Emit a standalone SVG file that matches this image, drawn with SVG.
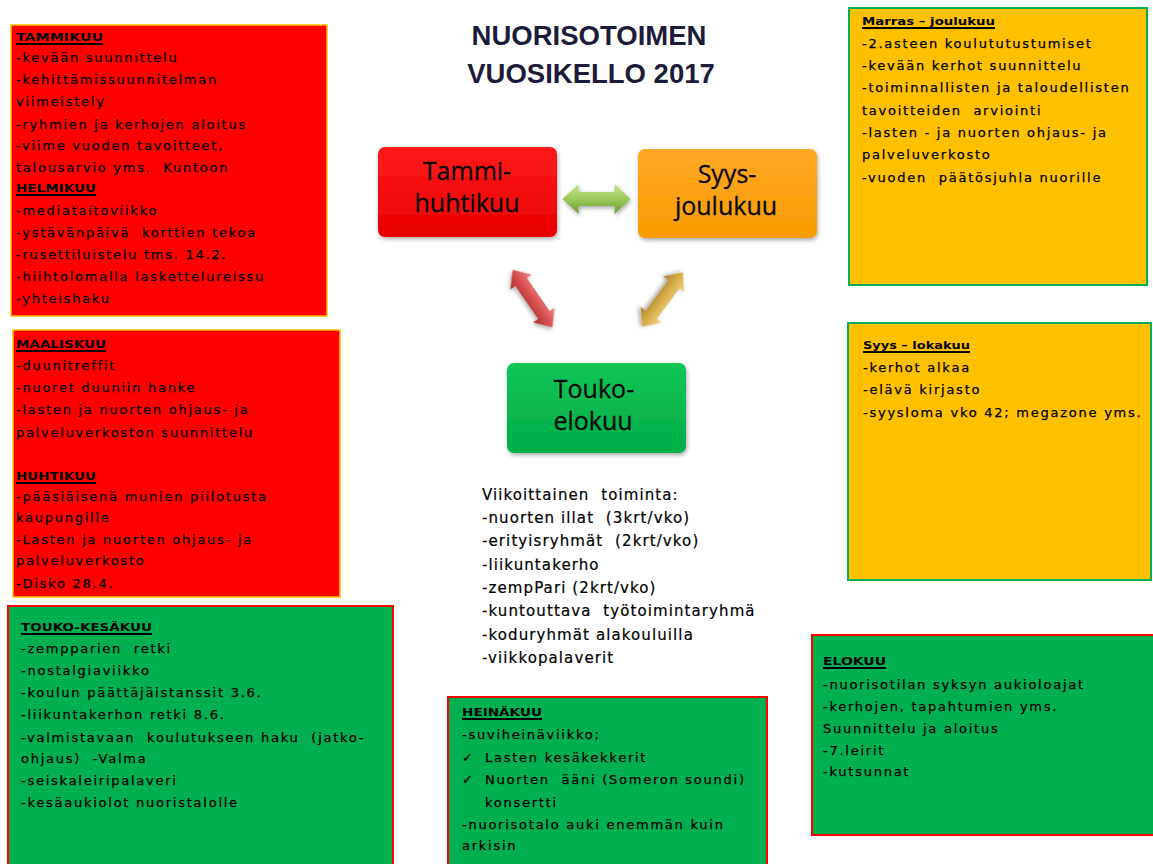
<svg xmlns="http://www.w3.org/2000/svg" width="1153" height="864" viewBox="0 0 1153 864" xml:space="preserve">
<defs>
<style>
text{white-space:pre}
.t{font-family:"DejaVu Sans","Liberation Sans",sans-serif;font-size:13px;letter-spacing:1.75px;fill:#000;stroke:#000;stroke-width:0.25}
.h{font-family:"DejaVu Sans","Liberation Sans",sans-serif;font-size:11px;font-weight:bold;fill:#000}
.u{stroke:#000;stroke-width:2}
.c{font-family:"DejaVu Sans","Liberation Sans",sans-serif;font-size:15px;letter-spacing:1.1px;fill:#000;stroke:#000;stroke-width:0.2}
.n{font-family:"Open Sans","DejaVu Sans",sans-serif;font-size:25px;fill:#0a0a0a;text-anchor:middle;stroke:#0a0a0a;stroke-width:0.3}
.ti{font-family:"Liberation Sans",Arial,sans-serif;font-size:27.5px;font-weight:bold;fill:#1c1c3a;text-anchor:middle}
.red{fill:#FF0000;stroke:#FFC000;stroke-width:1.5}
.org{fill:#FFC000;stroke:#00B050;stroke-width:2}
.grn{fill:#00B050;stroke:#FF0000;stroke-width:2}
</style>
<linearGradient id="gR" x1="0" y1="0" x2="0" y2="1"><stop offset="0" stop-color="#FF1A1A"/><stop offset="1" stop-color="#E80000"/></linearGradient>
<linearGradient id="gO" x1="0" y1="0" x2="0" y2="1"><stop offset="0" stop-color="#FFA826"/><stop offset="1" stop-color="#F89C00"/></linearGradient>
<linearGradient id="gG" x1="0" y1="0" x2="0" y2="1"><stop offset="0" stop-color="#12C457"/><stop offset="1" stop-color="#00AE48"/></linearGradient>
<linearGradient id="aG" x1="0" y1="0" x2="0" y2="1"><stop offset="0" stop-color="#C6E38A"/><stop offset="0.5" stop-color="#9CC95A"/><stop offset="1" stop-color="#6E9A34"/></linearGradient>
<linearGradient id="aR" x1="0" y1="0" x2="0" y2="1"><stop offset="0" stop-color="#F08A8A"/><stop offset="0.5" stop-color="#D85050"/><stop offset="1" stop-color="#A83030"/></linearGradient>
<linearGradient id="aY" x1="0" y1="0" x2="0" y2="1"><stop offset="0" stop-color="#F2D58A"/><stop offset="0.5" stop-color="#D9AE4A"/><stop offset="1" stop-color="#A8802A"/></linearGradient>
<filter id="sh" x="-10%" y="-10%" width="125%" height="130%"><feDropShadow dx="1" dy="2" stdDeviation="2" flood-color="#000" flood-opacity="0.35"/></filter>
</defs>
<rect width="1153" height="864" fill="#fff"/>

<g id="title">
<text class="ti" x="589" y="45">NUORISOTOIMEN</text>
<text class="ti" x="591" y="83">VUOSIKELLO 2017</text>
</g>

<g id="box-tammi-huhti-1">
<rect class="red" x="11" y="25" width="316" height="291"/>
<text class="h" x="16" y="41" textLength="87" lengthAdjust="spacingAndGlyphs">TAMMIKUU</text>
<line class="u" x1="16" y1="44" x2="103" y2="44"/>
<text class="t" x="16" y="62">-kevään suunnittelu</text>
<text class="t" x="16" y="84">-kehittämissuunnitelman</text>
<text class="t" x="16" y="106">viimeistely</text>
<text class="t" x="16" y="129">-ryhmien ja kerhojen aloitus</text>
<text class="t" x="16" y="150">-viime vuoden tavoitteet,</text>
<text class="t" x="16" y="172">talousarvio yms.  Kuntoon</text>
<text class="h" x="16" y="192" textLength="80" lengthAdjust="spacingAndGlyphs">HELMIKUU</text>
<line class="u" x1="16" y1="195" x2="96" y2="195"/>
<text class="t" x="16" y="215">-mediataitoviikko</text>
<text class="t" x="16" y="237">-ystävänpäivä  korttien tekoa</text>
<text class="t" x="16" y="259">-rusettiluistelu tms. 14.2.</text>
<text class="t" x="16" y="281">-hiihtolomalla laskettelureissu</text>
<text class="t" x="16" y="303">-yhteishaku</text>
</g>

<g id="box-maalis-huhti">
<rect class="red" x="13" y="330" width="327" height="267"/>
<text class="h" x="16" y="348" textLength="90" lengthAdjust="spacingAndGlyphs">MAALISKUU</text>
<line class="u" x1="16" y1="351" x2="106" y2="351"/>
<text class="t" x="16" y="370">-duunitreffit</text>
<text class="t" x="16" y="392">-nuoret duuniin hanke</text>
<text class="t" x="16" y="414">-lasten ja nuorten ohjaus- ja</text>
<text class="t" x="16" y="437">palveluverkoston suunnittelu</text>
<text class="h" x="16" y="480" textLength="80" lengthAdjust="spacingAndGlyphs">HUHTIKUU</text>
<line class="u" x1="16" y1="483" x2="96" y2="483"/>
<text class="t" x="16" y="501">-pääsiäisenä munien piilotusta</text>
<text class="t" x="16" y="522">kaupungille</text>
<text class="t" x="16" y="544">-Lasten ja nuorten ohjaus- ja</text>
<text class="t" x="16" y="565">palveluverkosto</text>
<text class="t" x="16" y="588">-Disko 28.4.</text>
</g>

<g id="box-touko-kesa">
<rect class="grn" x="8" y="606" width="385" height="270"/>
<text class="h" x="21" y="631" textLength="131" lengthAdjust="spacingAndGlyphs">TOUKO-KESÄKUU</text>
<line class="u" x1="21" y1="634" x2="152" y2="634"/>
<text class="t" x="21" y="653">-zempparien  retki</text>
<text class="t" x="21" y="675">-nostalgiaviikko</text>
<text class="t" x="21" y="697">-koulun päättäjäistanssit 3.6.</text>
<text class="t" x="21" y="719">-liikuntakerhon retki 8.6.</text>
<text class="t" x="21" y="742">-valmistavaan  koulutukseen haku  (jatko-</text>
<text class="t" x="21" y="763">ohjaus)  -Valma</text>
<text class="t" x="21" y="785">-seiskaleiripalaveri</text>
<text class="t" x="21" y="807">-kesäaukiolot nuoristalolle</text>
</g>

<g id="box-marras-joulu">
<rect class="org" x="849" y="8" width="298" height="277"/>
<text class="h" x="862" y="25" textLength="133" lengthAdjust="spacingAndGlyphs">Marras – joulukuu</text>
<line class="u" x1="862" y1="28" x2="995" y2="28"/>
<text class="t" x="862" y="48">-2.asteen koulututustumiset</text>
<text class="t" x="862" y="70">-kevään kerhot suunnittelu</text>
<text class="t" x="862" y="92">-toiminnallisten ja taloudellisten</text>
<text class="t" x="862" y="115">tavoitteiden  arviointi</text>
<text class="t" x="862" y="137">-lasten - ja nuorten ohjaus- ja</text>
<text class="t" x="862" y="159">palveluverkosto</text>
<text class="t" x="862" y="182">-vuoden  päätösjuhla nuorille</text>
</g>

<g id="box-syys-loka">
<rect class="org" x="848" y="323" width="303" height="257"/>
<text class="h" x="863" y="349" textLength="107" lengthAdjust="spacingAndGlyphs">Syys – lokakuu</text>
<line class="u" x1="863" y1="352" x2="970" y2="352"/>
<text class="t" x="863" y="372">-kerhot alkaa</text>
<text class="t" x="863" y="394">-elävä kirjasto</text>
<text class="t" x="863" y="417">-syysloma vko 42; megazone yms.</text>
</g>

<g id="box-elokuu">
<rect class="grn" x="812" y="635" width="345" height="200"/>
<text class="h" x="823" y="665" textLength="63" lengthAdjust="spacingAndGlyphs">ELOKUU</text>
<line class="u" x1="823" y1="668" x2="886" y2="668"/>
<text class="t" x="823" y="689">-nuorisotilan syksyn aukioloajat</text>
<text class="t" x="823" y="711">-kerhojen, tapahtumien yms.</text>
<text class="t" x="823" y="733">Suunnittelu ja aloitus</text>
<text class="t" x="823" y="755">-7.leirit</text>
<text class="t" x="823" y="776">-kutsunnat</text>
</g>

<g id="box-heinakuu">
<rect class="grn" x="448" y="697" width="319" height="175"/>
<text class="h" x="462" y="716" textLength="80" lengthAdjust="spacingAndGlyphs">HEINÄKUU</text>
<line class="u" x1="462" y1="719" x2="542" y2="719"/>
<text class="t" x="462" y="739">-suviheinäviikko;</text>
<text class="t" x="462" y="762">✓</text>
<text class="t" x="485" y="762">Lasten kesäkekkerit</text>
<text class="t" x="462" y="784">✓</text>
<text class="t" x="485" y="784">Nuorten  ääni (Someron soundi)</text>
<text class="t" x="485" y="807">konsertti</text>
<text class="t" x="462" y="829">-nuorisotalo auki enemmän kuin</text>
<text class="t" x="462" y="850">arkisin</text>
</g>

<g id="weekly">
<text class="c" x="482" y="500">Viikoittainen  toiminta:</text>
<text class="c" x="482" y="523">-nuorten illat  (3krt/vko)</text>
<text class="c" x="482" y="546">-erityisryhmät  (2krt/vko)</text>
<text class="c" x="482" y="570">-liikuntakerho</text>
<text class="c" x="482" y="593">-zempPari (2krt/vko)</text>
<text class="c" x="482" y="616">-kuntouttava  työtoimintaryhmä</text>
<text class="c" x="482" y="640">-koduryhmät alakouluilla</text>
<text class="c" x="482" y="663">-viikkopalaverit</text>
</g>

<g id="node-tammi">
<rect x="378" y="147" width="179" height="90" rx="7" fill="url(#gR)" filter="url(#sh)"/>
<text class="n" x="467" y="180">Tammi-</text>
<text class="n" x="467" y="212">huhtikuu</text>
</g>
<g id="node-syys">
<rect x="638" y="149" width="179" height="89" rx="7" fill="url(#gO)" filter="url(#sh)"/>
<text class="n" x="727" y="183">Syys-</text>
<text class="n" x="726" y="215">joulukuu</text>
</g>
<g id="node-touko">
<rect x="507" y="363" width="179" height="90" rx="7" fill="url(#gG)" filter="url(#sh)"/>
<text class="n" x="594" y="398">Touko-</text>
<text class="n" x="593" y="430">elokuu</text>
</g>

<g id="connectors">
<polygon transform="translate(596.5 199)" points="-34,0 -18,-15 -18,-7 18,-7 18,-15 34,0 18,15 18,7 -18,7 -18,15" fill="url(#aG)" filter="url(#sh)"/>
<polygon transform="translate(532.5 298.5) rotate(55.4)" points="-35,0 -20,-13 -20,-7 20,-7 20,-13 35,0 20,13 20,7 -20,7 -20,13" fill="url(#aR)" filter="url(#sh)"/>
<polygon transform="translate(662.5 299.5) rotate(126.7)" points="-34,0 -19,-13 -19,-7 19,-7 19,-13 34,0 19,13 19,7 -19,7 -19,13" fill="url(#aY)" filter="url(#sh)"/>
</g>
</svg>
